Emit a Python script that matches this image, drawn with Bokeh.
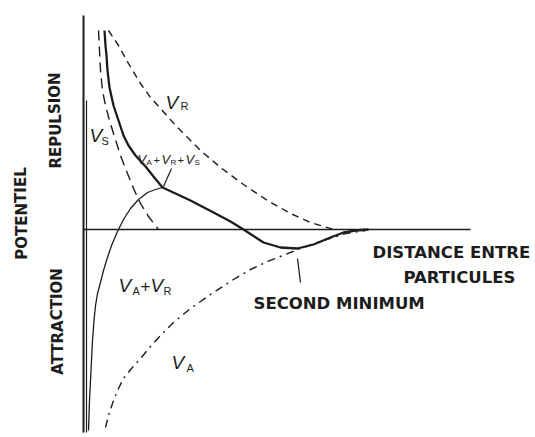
from bokeh.plotting import figure
from bokeh.models import Range1d, ColumnDataSource
from bokeh.core.properties import value
from bokeh.embed import file_html
from bokeh.resources import INLINE

# Schematic DLVO-type potential curves (arbitrary units)
# distance from particle surface, potential energy

# total potential V_A + V_R + V_S (thick solid)
total_d = [2.1, 2.2, 2.3, 2.4, 2.6, 3.0, 3.5, 4.0, 4.5, 5.2, 6.2, 7.0, 7.9,
           9.2, 10.7, 13.0, 14.7, 16.0, 18.0, 19.7, 21.4, 23.0, 24.7, 26.0, 27.2, 28.5]
total_v = [19.9, 18.4, 17.4, 15.9, 14.2, 12.4, 10.9, 9.4, 8.4, 7.4, 6.3, 5.3, 4.2,
           3.6, 2.9, 1.7, 0.8, 0.0, -1.3, -1.8, -1.9, -1.5, -0.8, -0.3, -0.1, 0.0]

# V_A + V_R up to the primary barrier (thin solid)
ar_d = [0.5, 0.55, 0.6, 0.7, 0.8, 0.9, 1.05, 1.2, 1.4, 1.7, 2.0, 2.3, 2.8, 3.4,
        4.0, 4.7, 5.5, 6.4, 7.2, 7.9]
ar_v = [-20.1, -18.6, -17.1, -15.1, -13.1, -11.1, -9.1, -7.6, -6.4, -5.3, -4.1, -3.1,
        -1.6, -0.2, 1.0, 2.1, 3.0, 3.7, 4.0, 4.2]

# steric repulsion V_S (long dashes)
vs_d = [1.5, 1.6, 1.7, 1.9, 2.2, 2.6, 3.0, 3.7, 4.4, 5.0, 5.7, 6.5, 7.5]
vs_v = [19.9, 17.9, 15.9, 13.9, 12.4, 10.9, 9.6, 7.4, 5.6, 4.1, 2.6, 1.3, 0.0]

# electrostatic repulsion V_R (dashed)
vr_d = [2.5, 3.5, 4.5, 5.7, 6.7, 7.7, 9.4, 11.7, 13.7, 16.0, 18.4, 20.7, 22.7, 25.0]
vr_v = [19.9, 18.4, 16.6, 14.6, 13.2, 12.1, 10.2, 7.9, 6.2, 4.5, 2.9, 1.6, 0.7, 0.0]

# van der Waals attraction V_A (dash-dot)
va_d = [2.2, 2.5, 3.0, 3.5, 4.0, 4.8, 5.7, 6.7, 7.7, 9.0, 10.7, 13.0, 15.0, 16.7,
        18.4, 20.2, 21.7, 23.7, 26.2, 28.2]
va_v = [-19.8, -18.6, -17.1, -15.9, -14.9, -13.9, -12.9, -11.7, -10.6, -9.3, -7.9,
        -6.3, -5.0, -4.0, -3.2, -2.5, -1.9, -1.2, -0.4, -0.1]

# axis extents
axis_top, axis_bottom, axis_right = 21.4, -20.3, 38.7
inner_top = 12.9

INK = "#1c1c1c"
ITALIC = "Liberation Sans"
CAPS = "DejaVu Sans"

p = figure(width=535, height=437, output_backend="svg", toolbar_location=None,
           x_range=Range1d(-8.3, 45.2), y_range=Range1d(-20.8, 22.9),
           x_axis_location=None, y_axis_location=None, min_border=0,
           background_fill_color="white", border_fill_color="white")
p.outline_line_color = None
p.xgrid.visible = False
p.ygrid.visible = False

# potential axis and distance axis
p.line([0, 0], [axis_top, axis_bottom], line_color=INK, line_width=2)
p.line([0.3, 0.3], [inner_top, axis_bottom], line_color=INK, line_width=1.2)
p.line([0, axis_right], [0, 0], line_color=INK, line_width=1.6)

# curves
p.line(vr_d, vr_v, line_color=INK, line_width=1.4, line_dash="7 5")
p.line(vs_d, vs_v, line_color=INK, line_width=1.4, line_dash="10 6")
p.line(va_d, va_v, line_color=INK, line_width=1.4, line_dash="8 5 2 5")
p.line(ar_d, ar_v, line_color=INK, line_width=1.3, line_join="round")
p.line(total_d, total_v, line_color=INK, line_width=2.3, line_join="round")

# leader lines
p.line([8.8, 8.0], [6.1, 4.3], line_color=INK, line_width=1.2)
p.line([21.4, 21.7], [-2.9, -5.3], line_color=INK, line_width=1.2)

# vertical captions
vert = ColumnDataSource(dict(x=[-6.2, -2.8, -2.6], y=[1.6, 10.9, -9.2],
                             t=["POTENTIEL", "REPULSION", "ATTRACTION"]))
p.text(x="x", y="y", text="t", source=vert, angle=1.5708, text_align="center",
       text_baseline="middle", text_font=value(CAPS), text_font_style="bold",
       text_font_size="15px", text_color=INK)

caps = ColumnDataSource(dict(x=[28.9, 32.0, 17.0], y=[-2.3, -4.8, -7.4],
                             t=["DISTANCE ENTRE", "PARTICULES", "SECOND MINIMUM"]))
p.text(x="x", y="y", text="t", source=caps, text_align="left",
       text_baseline="alphabetic", text_font=value(CAPS), text_font_style="bold",
       text_font_size="16.5px", text_color=INK)

# curve names: large italic V with subscripts
big = ColumnDataSource(dict(x=[8.2, 0.6, 3.5, 6.7, 8.8], y=[12.7, 9.4, -5.6, -5.6, -13.3],
                            t=["V", "V", "V", "V", "V"]))
p.text(x="x", y="y", text="t", source=big, text_align="left", text_baseline="alphabetic",
       text_font=value(ITALIC), text_font_style="italic", text_font_size="19px",
       text_color=INK)
subs = ColumnDataSource(dict(x=[9.7, 1.8, 4.9, 8.0, 10.3], y=[12.4, 8.9, -6.1, -6.1, -13.8],
                             t=["R", "S", "A", "R", "A"]))
p.text(x="x", y="y", text="t", source=subs, text_align="left", text_baseline="alphabetic",
       text_font=value(ITALIC), text_font_size="11px", text_color=INK)
p.text(x=[5.7], y=[-5.6], text=["+"], text_align="left", text_baseline="alphabetic",
       text_font=value(ITALIC), text_font_size="17px", text_color=INK)

# small label V_A+V_R+V_S
smallv = ColumnDataSource(dict(x=[5.4, 7.8, 10.2], y=[7.0, 7.0, 7.0], t=["V", "V", "V"]))
p.text(x="x", y="y", text="t", source=smallv, text_align="left", text_baseline="alphabetic",
       text_font=value(ITALIC), text_font_style="italic", text_font_size="13px",
       text_color=INK)
smalls = ColumnDataSource(dict(x=[6.3, 8.7, 11.1], y=[6.7, 6.7, 6.7], t=["A", "R", "S"]))
p.text(x="x", y="y", text="t", source=smalls, text_align="left", text_baseline="alphabetic",
       text_font=value(ITALIC), text_font_size="8px", text_color=INK)
smallp = ColumnDataSource(dict(x=[7.0, 9.4], y=[7.0, 7.0], t=["+", "+"]))
p.text(x="x", y="y", text="t", source=smallp, text_align="left", text_baseline="alphabetic",
       text_font=value(ITALIC), text_font_size="11px", text_color=INK)

open("out.html", "w").write(file_html(p, INLINE))
